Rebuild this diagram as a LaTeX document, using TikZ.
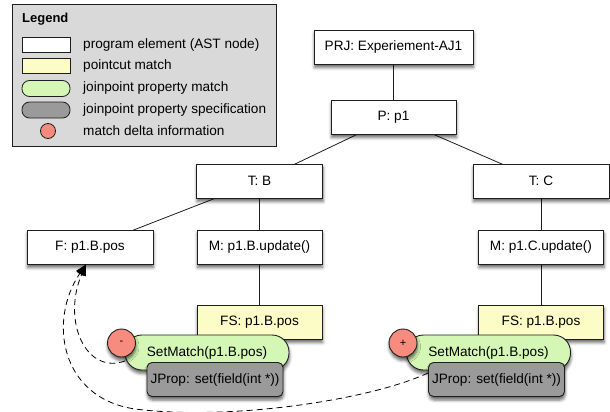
\documentclass[tikz,border=0pt]{standalone}
\usepackage{fontspec}
\setmainfont{Liberation Sans}
\usetikzlibrary{arrows.meta,calc,shadows.blur}

\definecolor{edgecol}{HTML}{1E1E1E}
\definecolor{legendgray}{HTML}{D9D9D9}
\definecolor{pcyellow}{HTML}{FCFCC6}
\definecolor{matchgreen}{HTML}{D4F7B5}
\definecolor{specgray}{HTML}{9A9A9A}
\definecolor{deltared}{HTML}{F78C7E}

\begin{document}
\begin{tikzpicture}[x=1pt,y=-1pt,
  font=\fontsize{13.6}{16}\selectfont,
  every node/.style={inner sep=0pt},
  softshadow/.style={blur shadow={shadow xshift=0.5pt, shadow yshift=-3.5pt,
      shadow blur radius=3pt, shadow opacity=60}},
  astbox/.style={draw=edgecol, line width=0.9pt, fill=white,
      minimum height=34pt, softshadow},
  pcbox/.style={astbox, fill=pcyellow},
  matchbox/.style={draw=edgecol, line width=0.9pt, fill=matchgreen,
      rounded corners=17pt, minimum width=164pt, minimum height=35pt, softshadow},
  specbox/.style={draw=edgecol, line width=0.9pt, fill=specgray,
      rounded corners=5pt, minimum width=136pt, minimum height=34pt, softshadow},
  deltadot/.style={circle, draw=edgecol, line width=0.9pt, fill=deltared,
      minimum size=28pt, font=\fontsize{11}{12}\selectfont, softshadow},
  treeedge/.style={draw=edgecol, line width=0.8pt},
  deltaarrow/.style={draw=black, line width=0.8pt, dash pattern=on 6pt off 4pt,
      -{Triangle[length=11pt,width=9pt]}},
  keyshape/.style={draw=edgecol, line width=0.8pt, minimum width=48pt, minimum height=15pt},
  keytext/.style={anchor=west},
]
\useasboundingbox (0,0) rectangle (610,412);

% ---------- legend ----------
\node[draw=edgecol, line width=0.8pt, fill=legendgray, anchor=north west,
      minimum width=264pt, minimum height=142pt] (legend) at (12,4) {};
\node[anchor=west, font=\fontsize{13}{15}\selectfont\bfseries] (legendtitle) at (22,19) {Legend};
\node[keyshape, fill=white] (keyast) at (46,45) {};
\node[keyshape, fill=pcyellow] (keypc) at (46,66) {};
\node[keyshape, fill=matchgreen, rounded corners=7.5pt, minimum height=16pt] (keymatch) at (46,88.5) {};
\node[keyshape, fill=specgray, rounded corners=7.5pt, minimum height=16pt] (keyspec) at (46,110) {};
\node[circle, draw=edgecol, line width=0.8pt, fill=deltared, minimum size=15pt] (keydelta) at (48,131) {};
\node[keytext] (lblast) at (83,45) {program element (AST node)};
\node[keytext] (lblpc) at (83,66) {pointcut match};
\node[keytext] (lblmatch) at (83,88) {joinpoint property match};
\node[keytext] (lblspec) at (83,110) {joinpoint property specification};
\node[keytext] (lbldelta) at (83,131) {match delta information};

% ---------- tree node positions ----------
\coordinate (cprj) at (393.5,47);
\coordinate (cp) at (393.5,117);
\coordinate (ctb) at (259.5,181);
\coordinate (ctc) at (541,181);
\coordinate (cf) at (90,247);
\coordinate (cmb) at (259.5,247);
\coordinate (cmc) at (541,247);
\coordinate (cfsb) at (259.5,322);
\coordinate (cfsc) at (541,322);

% tree edges (drawn first, nodes cover the ends)
\draw[treeedge] (cprj) -- (cp);
\draw[treeedge] (cp) -- (ctb);
\draw[treeedge] (cp) -- (ctc);
\draw[treeedge] (ctb) -- (cf);
\draw[treeedge] (ctb) -- (cmb);
\draw[treeedge] (ctc) -- (cmc);
\draw[treeedge] (cmb) -- (cfsb);
\draw[treeedge] (cmc) -- (cfsc);

% AST nodes
\node[astbox, minimum width=159pt] (prj) at (cprj) {PRJ: Experiement-AJ1};
\node[astbox, minimum width=125pt] (p) at (cp) {P: p1};
\node[astbox, minimum width=126pt] (tb) at (ctb) {T: B};
\node[astbox, minimum width=136pt] (tc) at (ctc) {T: C};
\node[astbox, minimum width=126pt] (f) at (cf) {F: p1.B.pos};
\node[astbox, minimum width=125pt] (mb) at (cmb) {M: p1.B.update()};
\node[astbox, minimum width=125pt] (mc) at (cmc) {M: p1.C.update()};

% pointcut matches with their joinpoint properties
\node[pcbox, minimum width=125pt] (fsb) at (cfsb) {FS: p1.B.pos};
\node[pcbox, minimum width=125pt] (fsc) at (cfsc) {FS: p1.B.pos};

% delta arrows back to the field
\draw[deltaarrow] ($(cfsb)+(-134.5,39)$) .. controls (85,375) and (62,320) .. ([xshift=-4pt]f.south);
\draw[deltaarrow] ($(cfsc)+(-113,51)$) .. controls (370,400) and (230,421) .. (135,409)
      .. controls (60,398) and (48,320) .. ([xshift=-4pt]f.south);

\node[matchbox] (smb) at ($(cfsb)+(-52.5,30.5)$) {SetMatch(p1.B.pos)};
\node[specbox] (jpb) at ($(cfsb)+(-44.5,57.5)$) {JProp: set(field(int *))};
\node[deltadot] (dmb) at ($(cfsb)+(-138,21)$) {-};

\node[matchbox] (smc) at ($(cfsc)+(-52.5,30.5)$) {SetMatch(p1.B.pos)};
\node[specbox] (jpc) at ($(cfsc)+(-44.5,57.5)$) {JProp: set(field(int *))};
\node[deltadot] (dmc) at ($(cfsc)+(-138,21)$) {+};
\end{tikzpicture}
\end{document}
